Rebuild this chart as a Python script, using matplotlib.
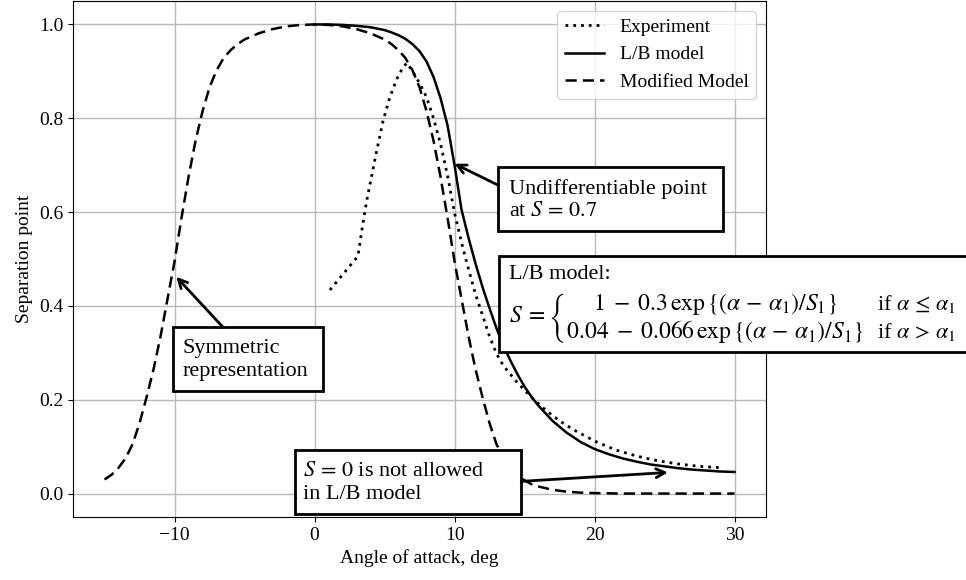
import matplotlib
matplotlib.use("Agg")
import matplotlib.pyplot as plt
from matplotlib.patches import Rectangle

plt.rcParams['font.family'] = ['Liberation Serif', 'DejaVu Serif']
plt.rcParams['mathtext.fontset'] = 'stix'

# experiment (dotted)
exp_alpha = [1.1, 1.6, 2.1, 2.6, 3.1, 3.4, 3.7, 4.0, 4.4, 4.9, 5.4, 5.9, 6.3, 6.6,
             7.0, 7.5, 8.0, 8.5, 9.0, 9.5, 10.0, 10.5, 11.0, 11.5, 12.0, 12.5, 13.0,
             13.5, 14.5, 15.5, 16.5, 17.5, 18.5, 20.0, 21.5, 23.0, 24.5, 26.0, 27.5, 29.0]
exp_s = [0.434, 0.452, 0.470, 0.488, 0.506, 0.565, 0.620, 0.665, 0.725, 0.795, 0.847, 0.885,
         0.908, 0.918, 0.900, 0.875, 0.845, 0.800, 0.745, 0.678, 0.598, 0.535, 0.478, 0.425,
         0.380, 0.335, 0.298, 0.272, 0.236, 0.205, 0.178, 0.155, 0.136, 0.112, 0.093, 0.080,
         0.070, 0.063, 0.058, 0.055]

# L/B model (solid)
lb_alpha = [0, 1, 2, 3, 4, 5, 5.5, 6, 6.5, 7, 7.5, 8, 8.5, 9, 9.5, 10, 10.5, 11, 11.5, 12,
            12.5, 13, 13.5, 14, 14.5, 15, 15.5, 16, 17, 18, 19, 20, 21, 22, 23, 24, 25, 26,
            27, 28, 29, 30]
lb_s = [1.0, 1.0, 0.999, 0.997, 0.994, 0.988, 0.983, 0.977, 0.969, 0.958, 0.943, 0.921,
        0.888, 0.843, 0.785, 0.700, 0.605, 0.545, 0.490, 0.440, 0.395, 0.352, 0.315, 0.283,
        0.254, 0.228, 0.206, 0.187, 0.155, 0.130, 0.110, 0.095, 0.084, 0.075, 0.068, 0.062,
        0.058, 0.054, 0.051, 0.049, 0.047, 0.046]

# modified model (dashed)
mod_alpha = [-15, -14.5, -14, -13.5, -13, -12.5, -12, -11.5, -11, -10.5, -10, -9.5, -9, -8.5,
             -8, -7.5, -7, -6.5, -6, -5.5, -5, -4, -3, -2, -1, 0, 1, 2, 3, 4, 5, 5.5, 6, 6.5,
             7, 7.5, 8, 8.5, 9, 9.5, 10, 10.5, 11, 11.5, 12, 12.5, 13, 13.5, 14, 14.5, 15,
             15.5, 16, 17, 18, 19, 20, 22, 25, 30]
mod_s = [0.030, 0.040, 0.055, 0.075, 0.105, 0.150, 0.205, 0.265, 0.335, 0.415, 0.495, 0.588,
         0.675, 0.752, 0.815, 0.866, 0.902, 0.928, 0.945, 0.958, 0.968, 0.981, 0.990, 0.996,
         0.999, 1.0, 0.999, 0.996, 0.990, 0.981, 0.968, 0.958, 0.945, 0.928, 0.902, 0.866,
         0.815, 0.752, 0.675, 0.588, 0.495, 0.415, 0.335, 0.265, 0.205, 0.150, 0.105, 0.075,
         0.055, 0.040, 0.028, 0.020, 0.015, 0.008, 0.004, 0.002, 0.001, 0.0, 0.0, 0.0]

fig = plt.figure(figsize=(9.66, 5.8), dpi=100)
ax = fig.add_axes([0.0756, 0.1086, 0.7174, 0.8897])

ax.plot(exp_alpha, exp_s, color='black', lw=2.0, linestyle=(0, (1, 1.8)), label='Experiment')
ax.plot(lb_alpha, lb_s, color='black', lw=1.8, label='L/B model')
ax.plot(mod_alpha, mod_s, color='black', lw=1.8, linestyle=(0, (4.5, 2.4)), label='Modified Model')

ax.grid(True, color='#b8b8b8', lw=1.0)
ax.set_xlabel('Angle of attack, deg', fontsize=14)
ax.set_ylabel('Separation point', fontsize=14)
ax.tick_params(labelsize=14)
ax.set_xticks([-10, 0, 10, 20, 30])
ax.set_yticks([0.0, 0.2, 0.4, 0.6, 0.8, 1.0])
ax.set_xlim(-17.25, 32.25)
ax.set_ylim(-0.05, 1.05)
ax.legend(loc='upper right', fontsize=14)

fs = 16
arrow = dict(arrowstyle='->', color='black', lw=2, mutation_scale=16, shrinkA=0, shrinkB=0)

def box(x0, y0, x1, y1):
    ax.add_patch(Rectangle((x0, y0), x1 - x0, y1 - y0, facecolor='white',
                           edgecolor='black', lw=2, zorder=4, clip_on=False))

# undifferentiable point
box(13.14, 0.560, 29.21, 0.696)
ax.text(13.86, 0.626, 'Undifferentiable point\nat $S\\,=\\,0.7$', fontsize=fs,
        ha='left', va='center', zorder=5, linespacing=1.25)
ax.annotate('', xy=(10.0, 0.703), xytext=(13.14, 0.657), arrowprops=arrow, zorder=5)

# symmetric representation
box(-10.14, 0.219, 0.57, 0.355)
ax.text(-9.45, 0.285, 'Symmetric\nrepresentation', fontsize=fs,
        ha='left', va='center', zorder=5, linespacing=1.25)
ax.annotate('', xy=(-9.88, 0.462), xytext=(-6.55, 0.355), arrowprops=arrow, zorder=5)

# S = 0 not allowed
box(-1.43, -0.043, 14.76, 0.092)
ax.text(-0.79, 0.022, '$S\\,=\\,0$ is not allowed\nin L/B model', fontsize=fs,
        ha='left', va='center', zorder=5, linespacing=1.25)
ax.annotate('', xy=(25.24, 0.045), xytext=(14.76, 0.026), arrowprops=arrow, zorder=5)

# formula box
box(13.21, 0.301, 48.0, 0.507)
ax.text(13.86, 0.466, 'L/B model:', fontsize=fs, ha='left', va='center', zorder=5)
formula = (r'$S\;=\left\{\genfrac{}{}{0}{0}'
           r'{1\;-\;0.3\,\exp\{(\alpha\,-\,\alpha_1)/S_1\}}'
           r'{0.04\;-\;0.066\,\exp\{(\alpha\,-\,\alpha_1)/S_1\}}\right.$')
ax.text(13.86, 0.374, formula, fontsize=17, ha='left', va='center', zorder=5)
ax.text(40.2, 0.405, r'if $\alpha\,\leq\,\alpha_1$', fontsize=fs, ha='left', va='center', zorder=5)
ax.text(40.2, 0.345, r'if $\alpha\,>\,\alpha_1$', fontsize=fs, ha='left', va='center', zorder=5)

fig.savefig('out.png', dpi=100)
